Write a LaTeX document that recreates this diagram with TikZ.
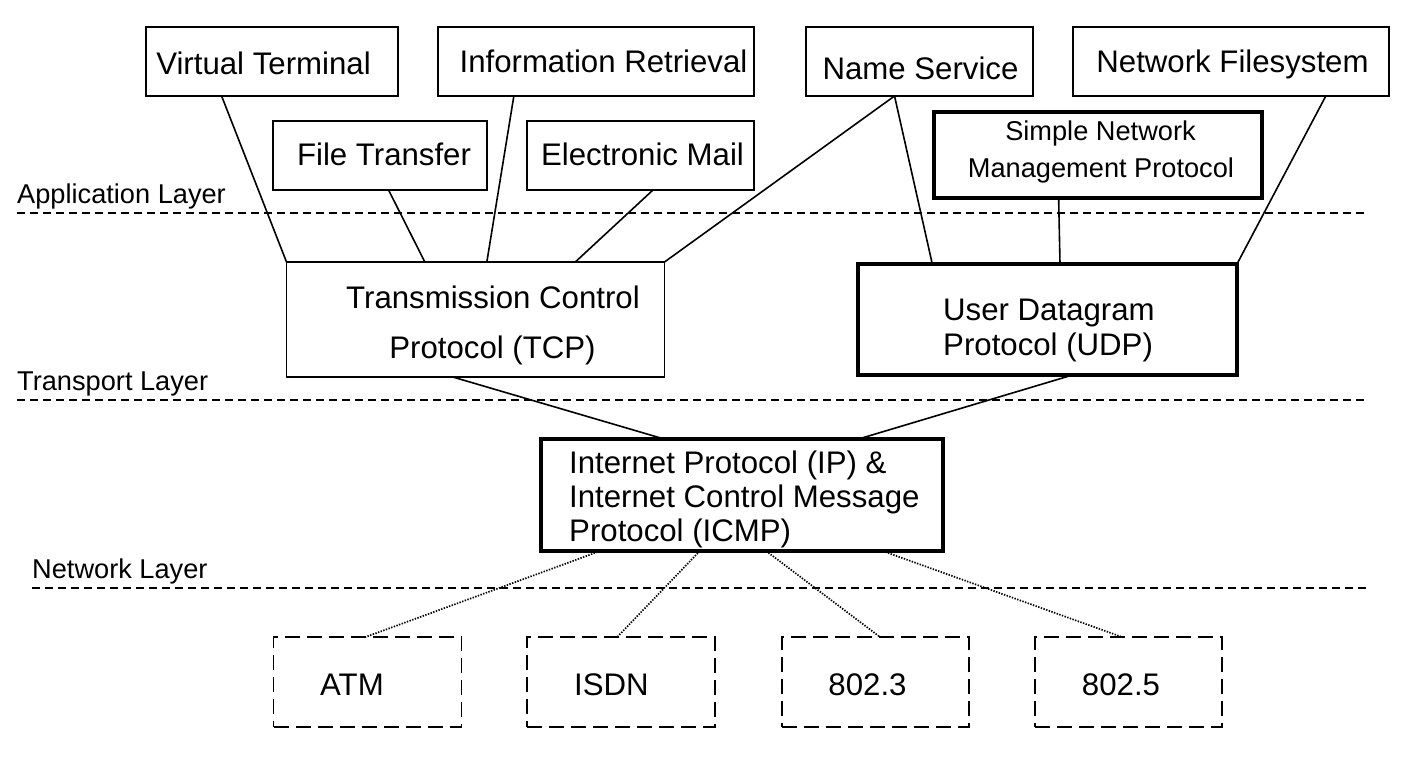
\documentclass[tikz,border=0pt]{standalone}
\usepackage{fontspec}
\setmainfont{Liberation Sans}
\usetikzlibrary{calc}
\tikzset{
  box/.style={draw, rectangle, line width=1.5pt, inner sep=0pt, outer sep=0pt, fill=white},
  thickbox/.style={box, line width=3.2pt},
  dbox/.style={box, dash pattern=on 15pt off 7pt},
  txt/.style={inner sep=0pt, font=\fontsize{31.2pt}{36pt}\selectfont},
  smalltxt/.style={inner sep=0pt, font=\fontsize{27.2pt}{32pt}\selectfont},
  conn/.style={line width=1.6pt},
  dotconn/.style={line width=1.7pt, dash pattern=on 1.4pt off 1.4pt},
  layerline/.style={line width=1.5pt, dash pattern=on 8pt off 5pt}
}
\begin{document}
\begin{tikzpicture}[x=1pt,y=-1pt]
\useasboundingbox (0,0) rectangle (1411,766);
\fill[white] (0,0) rectangle (1411,766);

% layer lines and labels
\draw[layerline] (17,213) -- (1366,213);
\draw[layerline] (17,400) -- (1366,400);
\draw[layerline] (32,588) -- (1366,588);
\node[smalltxt, anchor=base west] (lapp) at (17,203) {Application Layer};
\node[smalltxt, anchor=base west] (ltrans) at (17,390) {Transport Layer};
\node[smalltxt, anchor=base west] (lnet) at (32,578) {Network Layer};

% application boxes
\node[box, minimum width=252pt, minimum height=69pt] (vt) at (272,61.5) {};
\node[box, minimum width=316pt, minimum height=69pt] (ir) at (596,61.5) {};
\node[box, minimum width=227pt, minimum height=69pt] (ns) at (919.5,61.5) {};
\node[box, minimum width=316pt, minimum height=69pt] (nf) at (1231,61.5) {};
\node[box, minimum width=214pt, minimum height=69pt] (ft) at (380,155.5) {};
\node[box, minimum width=227pt, minimum height=69pt] (em) at (640.5,155.5) {};
\node[thickbox, minimum width=328pt, minimum height=86pt] (snmp) at (1098,155) {};

\node[txt, anchor=base] (vtt) at (263.5,74) {Virtual Terminal};
\node[txt, anchor=base] (irt) at (603.5,72) {Information Retrieval};
\node[txt, anchor=base] (nst) at (920.5,79) {Name Service};
\node[txt, anchor=base] (nft) at (1232.5,72) {Network Filesystem};
\node[txt, anchor=base] (ftt) at (384,165) {File Transfer};
\node[txt, anchor=base] (emt) at (642.5,165) {Electronic Mail};
\node[smalltxt, anchor=base] (snmpa) at (1100.5,140) {Simple Network};
\node[smalltxt, anchor=base] (snmpb) at (1101,177) {Management Protocol};

% transport boxes
\node[box, minimum width=378pt, minimum height=115pt] (tcp) at (475.5,319.5) {};
\node[thickbox, minimum width=379pt, minimum height=111pt] (udp) at (1047.5,319.5) {};
\node[txt, anchor=base] (tcpa) at (493,308) {Transmission Control};
\node[txt, anchor=base] (tcpb) at (492.5,358) {Protocol (TCP)};
\node[txt, anchor=base west] (udpa) at (943,320) {User Datagram};
\node[txt, anchor=base west] (udpb) at (943,355) {Protocol (UDP)};

% network box
\node[thickbox, minimum width=402pt, minimum height=112pt] (ip) at (742,495) {};
\node[txt, anchor=base west] (ipa) at (569,473) {Internet Protocol (IP) \&};
\node[txt, anchor=base west] (ipb) at (569,507) {Internet Control Message};
\node[txt, anchor=base west] (ipc) at (569,541) {Protocol (ICMP)};

% link layer boxes
\node[dbox, minimum width=188pt, minimum height=90pt] (atm) at (367.5,682) {};
\node[dbox, minimum width=188pt, minimum height=90pt] (isdn) at (621,682) {};
\node[dbox, minimum width=187pt, minimum height=90pt] (ethA) at (875.5,682) {};
\node[dbox, minimum width=187pt, minimum height=90pt] (ethB) at (1128.5,682) {};
\node[txt, anchor=base] (atmt) at (352,695) {ATM};
\node[txt, anchor=base] (isdnt) at (611.5,695) {ISDN};
\node[txt, anchor=base] (ethAt) at (867.5,695) {802.3};
\node[txt, anchor=base] (ethBt) at (1121,695) {802.5};

% connectors application -> transport
\draw[conn] ($(vt.south west)!0.30!(vt.south east)$) -- (tcp.north west);
\draw[conn] ($(ft.south west)!0.54!(ft.south east)$) -- ($(tcp.north west)!0.366!(tcp.north east)$);
\draw[conn] ($(ir.south west)!0.24!(ir.south east)$) -- ($(tcp.north west)!0.53!(tcp.north east)$);
\draw[conn] ($(em.south west)!0.555!(em.south east)$) -- ($(tcp.north west)!0.764!(tcp.north east)$);
\draw[conn] ($(ns.south west)!0.39!(ns.south east)$) -- (tcp.north east);
\draw[conn] ($(ns.south west)!0.39!(ns.south east)$) -- ($(udp.north west)!0.196!(udp.north east)$);
\draw[conn] ($(snmp.south west)!0.38!(snmp.south east)$) -- ($(udp.north west)!0.533!(udp.north east)$);
\draw[conn] ($(nf.south west)!0.80!(nf.south east)$) -- (udp.north east);

% transport -> network
\draw[conn] ($(tcp.south west)!0.44!(tcp.south east)$) -- ($(ip.north west)!0.306!(ip.north east)$);
\draw[conn] ($(udp.south west)!0.566!(udp.south east)$) -- ($(ip.north west)!0.79!(ip.north east)$);

% network -> link (dotted)
\draw[dotconn] ($(ip.south west)!0.147!(ip.south east)$) -- ($(atm.north west)!0.49!(atm.north east)$);
\draw[dotconn] ($(ip.south west)!0.395!(ip.south east)$) -- ($(isdn.north west)!0.48!(isdn.north east)$);
\draw[dotconn] ($(ip.south west)!0.56!(ip.south east)$) -- ($(ethA.north west)!0.524!(ethA.north east)$);
\draw[dotconn] ($(ip.south west)!0.85!(ip.south east)$) -- ($(ethB.north west)!0.465!(ethB.north east)$);
\end{tikzpicture}
\end{document}
